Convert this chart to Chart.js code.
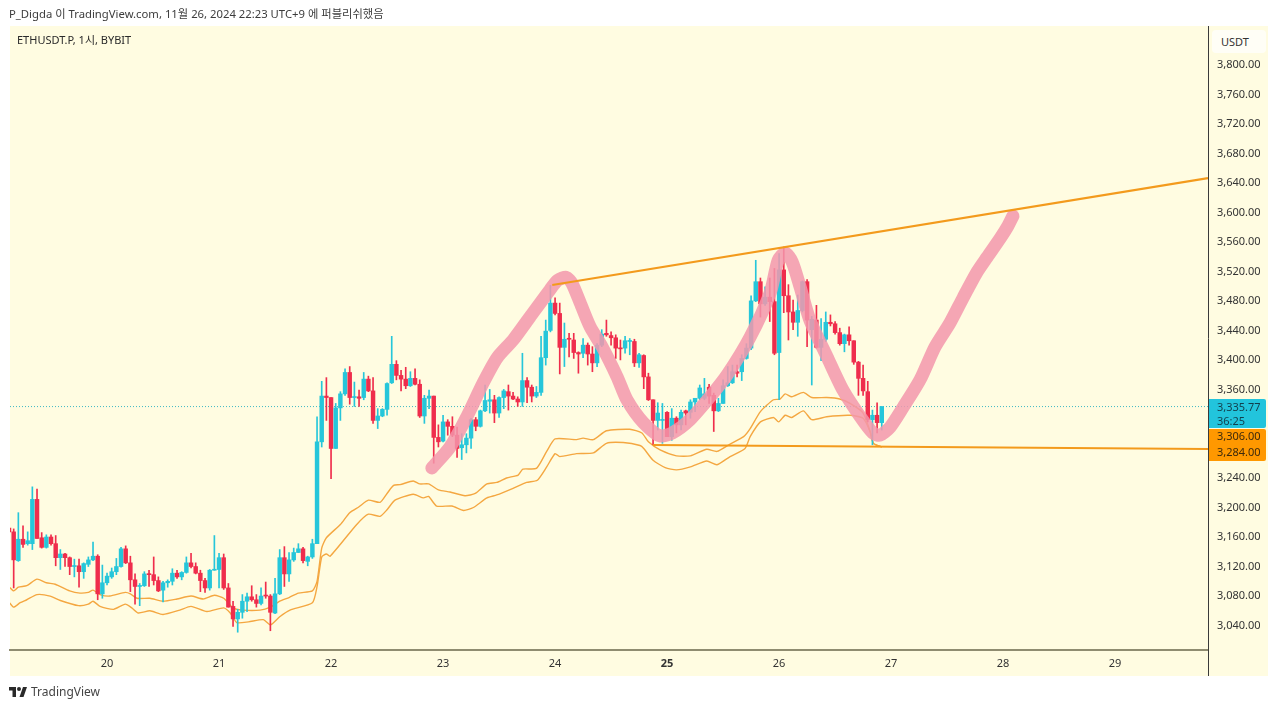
<!DOCTYPE html>
<html>
<head>
<meta charset="utf-8">
<title>ETHUSDT.P</title>
<script src="https://cdn.jsdelivr.net/npm/chart.js@4/dist/chart.umd.js"></script>
<style>
html, body { margin: 0; padding: 0; background: #fff; overflow: hidden; }
body { width: 1280px; height: 709px; position: relative; font-family: "Noto Sans", "Noto Sans CJK KR", sans-serif; color: #333; }
canvas { position: absolute; left: 0; top: 0; }
.txt { position: absolute; white-space: nowrap; font-size: 11px; line-height: 14px; }
#header { left: 9px; top: 7px; color: #3c3c3c; font-size: 11.3px; }
#symbol { left: 17px; top: 33px; color: #2a2a2a; }
#currency { left: 1212px; top: 30px; width: 45px; height: 23px; line-height: 23px; padding-left: 9px; background: #fffef6; border-radius: 4px; color: #333; }
#brand { left: 31px; top: 684px; font-size: 12px; line-height: 16px; color: #444; }
#logo { position: absolute; left: 9px; top: 686px; }
</style>
</head>
<body>
<canvas id="chart" width="1280" height="709"></canvas>
<div class="txt" id="header">P_Digda 이 TradingView.com, 11월 26, 2024 22:23 UTC+9 에 퍼블리쉬했음</div>
<div class="txt" id="symbol">ETHUSDT.P, 1시, BYBIT</div>
<div class="txt" id="currency">USDT</div>
<svg id="logo" width="18" height="12" viewBox="0 0 36 24"><path fill="#2a2a2a" d="M14 2H0v7h7v13h7V2zM29 22h-8L28 2h8l-7 20zM20 2a4 4 0 1 1 0 8 4 4 0 0 1 0-8z"/></svg>
<div class="txt" id="brand">TradingView</div>
<script>
// hours are counted from Nov 20 00:00
const firstCandleHour = -21

const candleOpen = [
3171,3166,3127,3156,3150,3150,3210,3158,3145,3159,
3150,3131,3136,3131,3119,3120,3112,3122,3128,3133,
3082,3097,3105,3112,3119,3143,3124,3101,3092,3093,
3109,3108,3100,3087,3097,3099,3110,3105,3111,3124,
3119,3110,3100,3090,3114,3115,3131,3090,3065,3048,
3057,3072,3078,3074,3069,3080,3079,3056,3082,3131,
3109,3128,3138,3143,3126,3132,3150,3288,3350,3348,
3279,3334,3353,3382,3348,3349,3348,3373,3357,3317,
3323,3332,3368,3393,3378,3373,3364,3374,3366,3323,
3347,3350,3294,3289,3315,3309,3297,3280,3284,3293,
3318,3309,3330,3343,3345,3327,3348,3356,3350,3346,
3342,3371,3362,3350,3355,3402,3439,3476,3462,3416,
3428,3426,3409,3408,3419,3407,3395,3419,3435,3432,
3429,3415,3415,3424,3424,3395,3405,3376,3345,3317,
3317,3328,3295,3320,3311,3330,3328,3342,3347,3347,
3362,3351,3330,3340,3364,3368,3383,3383,3401,3415,
3479,3505,3475,3484,3478,3409,3521,3486,3464,3450,
3466,3505,3440,3453,3416,3427,3450,3448,3436,3421,
3433,3425,3396,3374,3356,3318,3324,3314
]
const candleHigh = [
3179,3170,3192,3174,3166,3227,3224,3165,3162,3162,
3161,3142,3137,3132,3129,3129,3124,3132,3152,3135,
3121,3110,3117,3130,3145,3147,3133,3109,3096,3112,
3114,3132,3105,3099,3101,3116,3114,3112,3132,3137,
3124,3114,3103,3115,3161,3137,3136,3096,3072,3061,
3081,3083,3093,3081,3090,3098,3081,3103,3142,3146,
3138,3144,3150,3145,3133,3156,3322,3370,3375,3348,
3340,3356,3387,3390,3369,3358,3382,3377,3375,3333,
3333,3368,3431,3398,3385,3389,3383,3387,3372,3351,
3358,3350,3311,3324,3318,3322,3308,3299,3299,3320,
3321,3331,3365,3359,3351,3349,3359,3365,3355,3349,
3408,3375,3365,3363,3431,3453,3500,3483,3476,3449,
3435,3435,3410,3428,3422,3417,3421,3440,3453,3437,
3433,3426,3431,3428,3427,3408,3406,3381,3345,3341,
3340,3329,3333,3322,3331,3331,3345,3347,3365,3374,
3366,3354,3347,3372,3390,3392,3392,3406,3421,3486,
3534,3510,3498,3510,3523,3543,3552,3501,3480,3487,
3506,3508,3458,3473,3455,3464,3460,3451,3442,3434,
3444,3425,3397,3392,3370,3331,3341,3335.77
]
const candleLow = [
3160,3090,3126,3145,3148,3142,3157,3144,3144,3148,
3120,3115,3119,3108,3105,3091,3103,3119,3127,3074,
3076,3094,3103,3108,3118,3123,3085,3068,3066,3092,
3092,3094,3085,3071,3091,3094,3103,3101,3110,3117,
3109,3085,3084,3087,3114,3090,3088,3064,3038,3030,
3049,3058,3072,3064,3067,3076,3032,3055,3081,3092,
3099,3126,3138,3124,3120,3130,3150,3281,3317,3238,
3279,3317,3351,3339,3336,3336,3345,3356,3313,3306,
3322,3324,3367,3372,3357,3360,3363,3365,3321,3313,
3333,3259,3281,3288,3297,3295,3267,3264,3273,3279,
3303,3308,3329,3327,3314,3321,3333,3331,3345,3336,
3336,3341,3342,3348,3351,3392,3437,3460,3380,3390,
3403,3401,3381,3402,3392,3383,3390,3417,3431,3419,
3401,3399,3408,3406,3390,3389,3360,3344,3284,3304,
3286,3295,3290,3300,3304,3311,3320,3329,3345,3345,
3340,3302,3329,3340,3363,3367,3376,3371,3400,3413,
3478,3457,3473,3451,3406,3345,3463,3426,3440,3431,
3464,3417,3365,3415,3398,3424,3445,3434,3419,3410,
3419,3393,3351,3351,3315,3284,3300,3304
]
const candleClose = [
3166,3128,3156,3149,3154,3210,3157,3145,3159,3150,
3131,3136,3131,3119,3120,3112,3123,3128,3133,3082,
3097,3106,3112,3119,3143,3124,3101,3092,3093,3109,
3108,3100,3086,3097,3099,3110,3105,3111,3124,3119,
3110,3100,3090,3114,3115,3131,3090,3064,3048,3057,
3072,3078,3074,3069,3079,3079,3057,3082,3131,3109,
3128,3138,3143,3127,3132,3150,3288,3350,3348,3279,
3334,3353,3382,3348,3349,3347,3373,3357,3317,3323,
3332,3367,3393,3378,3373,3364,3374,3366,3323,3347,
3350,3294,3288,3315,3309,3297,3279,3284,3293,3318,
3309,3330,3344,3345,3327,3348,3357,3350,3346,3342,
3371,3362,3350,3355,3402,3438,3476,3462,3416,3427,
3427,3409,3407,3419,3407,3395,3419,3434,3433,3429,
3415,3414,3425,3425,3395,3406,3376,3345,3317,3327,
3318,3295,3320,3311,3328,3327,3342,3347,3361,3353,
3350,3330,3340,3364,3368,3383,3381,3401,3415,3479,
3505,3475,3484,3478,3408,3521,3486,3464,3450,3466,
3505,3453,3454,3416,3427,3450,3448,3436,3421,3433,
3425,3396,3374,3357,3318,3324,3314,3335.77
]

const upperBandHours = [-20.9,-20,-19,-17.2,-15,-13,-11.1,-8,-5.8,-4,-3,-1.5,0.6,3.9,5,6.4,9.2,12,15,18,20.6,23,25,27,29,32.8,35,37,39,41,44,45,46,47,50,52,54,56,58.5,60,61.4,62.8,65.6,67,68.9,71,73.5,76.7,78.9,81.4,83.5,85.6,88.1,89.1,92,94.2,96,100.6,102,104.2,107,112,114.6,116,118.5,122,125,128.5,130.7,133.5,136.4,137.8,140,142.8,144.2,145.3,146.7,149.2,151,154.2,157,159.2,162,163.5,164.2,166]
const upperBand = [3091,3086,3091,3093,3102,3097,3095,3086,3083,3084,3087,3081,3079,3084,3082,3076,3076,3072,3075,3079,3075,3080,3076,3063,3060,3060,3064,3072,3077,3083,3086,3099,3144,3158,3176,3192,3200,3209,3206,3218,3229,3230,3235,3231,3231,3223,3220,3215,3218,3231,3233,3239,3243,3251,3252,3275,3292,3291,3293,3291,3303,3305,3300,3288,3277,3269,3269,3278,3275,3285,3295,3306,3329,3345,3346,3353,3349,3355,3348,3348,3346,3340,3327,3302,3286,3281]
const lowerBandHours = [-20.9,-20,-18.6,-17.2,-15,-12.2,-10,-6.1,-4,-3,-1.5,1.4,3.9,5.3,6.7,9.2,12,15.6,18,21.4,25,26.4,27.8,30.3,33.5,35,37,39.2,44,45,46,47,47.8,53.5,56,58.5,60,61.7,65.6,67.8,68.9,70.6,73.9,76.4,78.5,81.4,83.5,87,89.9,92.2,94.2,96,97,100.6,104.2,107,110.6,114.2,115,117,119.6,122,125,128.5,130.7,133.5,136.7,137.8,140,142.8,143.9,145.3,146.7,149.2,151,154.2,159.2,162,163.5,164.2,166]
const lowerBand = [3070,3064,3070,3074,3081,3079,3073,3066,3068,3072,3065,3061,3068,3063,3056,3059,3054,3060,3065,3058,3063,3056,3043,3044,3047,3040,3051,3060,3070,3092,3132,3136,3133,3176,3190,3187,3196,3209,3217,3212,3214,3201,3201,3195,3199,3212,3216,3225,3233,3236,3254,3272,3268,3272,3273,3286,3287,3283,3279,3263,3253,3250,3254,3262,3257,3268,3279,3295,3315,3321,3315,3324,3321,3330,3318,3322,3324,3320,3302,3286,3281]

// hand drawn pink pattern
const sketchHours = [69.6,73.5,77.1,80.6,83.6,87,90.6,94.9,96.6,98.4,99.6,101.4,103.5,106.1,109.3,111.4,114.9,118.5,121.1,124.9,129.2,132.9,137.8,142.1,143.8,145.3,146.8,148.5,150.6,154.3,157.7,161.4,164.1,165.6,167.8,170.6,174.2,177.4,180.6,183.4,186.4,188.6,191.4,192.9,194.1]
const sketchPrices = [3252.6,3281,3322,3368,3402,3426,3457,3494,3507,3511,3503,3476,3444,3416.5,3376,3345,3314,3296,3300,3318,3349,3379,3430,3490,3534,3544,3532,3498,3453,3403,3358,3322,3300,3297,3308,3335,3372,3416.5,3449,3483,3518,3538.5,3564,3579,3594]

const resistanceHours = [95.4, 235.9]
const resistancePrices = [3500.5, 3645.5]
const supportHours = [117, 235.9]
const supportPrices = [3283.7, 3278.3]

const lastPrice = 3335.77
const countdown = "36:25"
const tagPrices = [3306, 3284]

const dayHours = [0, 24, 48, 72, 96, 120, 144, 168, 192, 216]
const dayLabels = ["20", "21", "22", "23", "24", "25", "26", "27", "28", "29"]
const priceTicks = [3800,3760,3720,3680,3640,3600,3560,3520,3480,3440,3400,3360,3240,3200,3160,3120,3080,3040]

const xMin = -20.79, xMax = 235.9
const yMin = 3005.9, yMax = 3851.5

const UP = "#26c6da", DOWN = "#ef2d4c", ORANGE = "#f39a1c", BAND = "#f4a741"
const FONT = '"Noto Sans", "Noto Sans CJK KR", sans-serif'

function priceLabel(v) {
    return v.toLocaleString("en-US", { minimumFractionDigits: 2, maximumFractionDigits: 2 })
}

function zip(xs, ys) {
    return xs.map((x, i) => ({ x: x, y: ys[i] }))
}

const candleHours = candleOpen.map((_, i) => firstCandleHour + i)
const candleColors = candleOpen.map((o, i) => candleClose[i] >= o ? UP : DOWN)

// panel behind the plot and the axes, plus the price tags on top
const panelPlugin = {
    id: "panel",
    beforeDraw(chart) {
        const ctx = chart.ctx, area = chart.chartArea, y = chart.scales.y, x = chart.scales.x
        ctx.save()
        ctx.fillStyle = "#fffce1"
        ctx.fillRect(area.left, area.top, y.right - area.left, x.bottom - area.top)
        ctx.restore()
    },
    afterDraw(chart) {
        const ctx = chart.ctx, area = chart.chartArea, y = chart.scales.y, x = chart.scales.x
        ctx.save()
        ctx.strokeStyle = "#3a3a3a"
        ctx.lineWidth = 1
        ctx.beginPath()
        ctx.moveTo(area.right + 0.5, area.bottom)
        ctx.lineTo(area.right + 0.5, x.bottom)
        ctx.stroke()

        const left = area.right + 1, w = y.right - left - 2
        const py = y.getPixelForValue(lastPrice)
        ctx.fillStyle = "#22c4dc"
        ctx.beginPath()
        ctx.roundRect(left, py - 7.5, w, 29, [0, 2, 2, 0])
        ctx.fill()
        const ty = y.getPixelForValue(tagPrices[0])
        ctx.fillStyle = "#ff9800"
        ctx.beginPath()
        ctx.roundRect(left, ty + 0.5, w, 32, [0, 2, 2, 0])
        ctx.fill()

        ctx.font = "11px " + FONT
        ctx.textBaseline = "middle"
        ctx.textAlign = "left"
        ctx.fillStyle = "#123f4d"
        ctx.fillText(priceLabel(lastPrice), left + 8, py + 1)
        ctx.fillText(countdown, left + 8, py + 15)
        ctx.fillStyle = "#3d2a0c"
        ctx.fillText(priceLabel(tagPrices[0]), left + 8, ty + 8)
        ctx.fillText(priceLabel(tagPrices[1]), left + 8, ty + 24)
        ctx.restore()
    }
}

new Chart(document.getElementById("chart"), {
    type: "bar",
    data: {
        datasets: [
            {
                type: "line", order: 0, data: zip(resistanceHours, resistancePrices),
                borderColor: ORANGE, borderWidth: 2.2, pointRadius: 0
            },
            {
                type: "line", order: 0, data: zip(supportHours, supportPrices),
                borderColor: ORANGE, borderWidth: 2.2, pointRadius: 0
            },
            {
                type: "line", order: 1, data: zip(sketchHours, sketchPrices),
                borderColor: "rgba(243,150,172,0.85)", borderWidth: 13, pointRadius: 0,
                tension: 0.25, borderCapStyle: "round", borderJoinStyle: "round"
            },
            {
                order: 2, data: candleHours.map((h, i) => ({ x: h, y: [candleOpen[i], candleClose[i]] })),
                backgroundColor: candleColors, barThickness: 3.8, minBarLength: 1, grouped: false
            },
            {
                order: 3, data: candleHours.map((h, i) => ({ x: h, y: [candleLow[i], candleHigh[i]] })),
                backgroundColor: candleColors, barThickness: 1, grouped: false
            },
            {
                type: "line", order: 4, data: zip(upperBandHours, upperBand),
                borderColor: BAND, borderWidth: 1.4, pointRadius: 0, tension: 0.2
            },
            {
                type: "line", order: 4, data: zip(lowerBandHours, lowerBand),
                borderColor: BAND, borderWidth: 1.4, pointRadius: 0, tension: 0.2
            },
            {
                type: "line", order: 5, data: zip([xMin, xMax], [lastPrice, lastPrice]),
                borderColor: "#3fb8c4", borderWidth: 1, borderDash: [1, 2], pointRadius: 0
            }
        ]
    },
    options: {
        responsive: false,
        animation: false,
        events: [],
        layout: { padding: { left: 10, top: 26, right: 12, bottom: 33 } },
        plugins: { legend: { display: false }, tooltip: { enabled: false } },
        scales: {
            x: {
                type: "linear", min: xMin, max: xMax, offset: false, bounds: "data",
                grid: { display: false, drawTicks: false, offset: false },
                border: { display: true, color: "#8f8c70", width: 2 },
                afterBuildTicks: (scale) => { scale.ticks = dayHours.map(v => ({ value: v })) },
                afterFit: (scale) => { scale.height = 26 },
                ticks: {
                    autoSkip: false, maxRotation: 0, minRotation: 0, padding: 7, color: "#333",
                    font: (c) => ({ family: FONT, size: 11, weight: c.tick && c.tick.value === 120 ? "bold" : "normal" }),
                    callback: (v) => dayLabels[dayHours.indexOf(v)]
                }
            },
            y: {
                type: "linear", position: "right", min: yMin, max: yMax, bounds: "data",
                grid: { display: false, drawTicks: false },
                border: { display: true, color: "#3a3a3a", width: 1 },
                afterBuildTicks: (scale) => { scale.ticks = priceTicks.map(v => ({ value: v })) },
                afterFit: (scale) => { scale.width = 60 },
                ticks: {
                    autoSkip: false, padding: 9, labelOffset: 1, color: "#333",
                    font: { family: FONT, size: 11 },
                    callback: (v) => priceLabel(v)
                }
            }
        }
    },
    plugins: [panelPlugin]
})
</script>
</body>
</html>
